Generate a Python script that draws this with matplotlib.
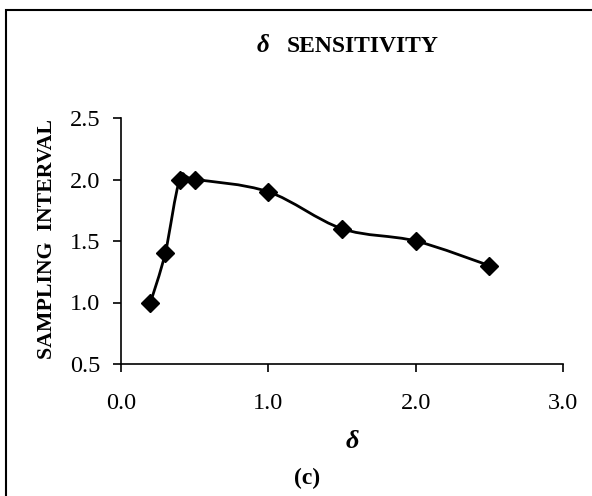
import matplotlib.pyplot as plt
from matplotlib.path import Path
from matplotlib.patches import PathPatch, Rectangle

# data
delta = [0.2, 0.3, 0.4, 0.5, 1.0, 1.5, 2.0, 2.5]
interval = [1.0, 1.4, 2.0, 2.0, 1.9, 1.6, 1.5, 1.3]
xticks = [0.0, 1.0, 2.0, 3.0]
yticks = [0.5, 1.0, 1.5, 2.0, 2.5]

plt.rcParams['font.family'] = 'Liberation Serif'

fig = plt.figure(figsize=(5.92, 4.96), dpi=100)
ax = fig.add_axes([121/592, 1-364/496, 442/592, 246/496])

# Excel-style smoothed line (Catmull-Rom bezier through the points)
pts = list(zip(delta, interval))
verts = [pts[0]]
codes = [Path.MOVETO]
n = len(pts)
for i in range(n - 1):
    p0 = pts[i - 1] if i > 0 else pts[i]
    p1 = pts[i]
    p2 = pts[i + 1]
    p3 = pts[i + 2] if i + 2 < n else pts[i + 1]
    c1 = (p1[0] + (p2[0] - p0[0]) / 6, p1[1] + (p2[1] - p0[1]) / 6)
    c2 = (p2[0] - (p3[0] - p1[0]) / 6, p2[1] - (p3[1] - p1[1]) / 6)
    verts += [c1, c2, p2]
    codes += [Path.CURVE4] * 3
ax.add_patch(PathPatch(Path(verts, codes), facecolor='none', edgecolor='black', lw=2))
ax.plot(delta, interval, linestyle='none', marker='D', markersize=9.5, color='black')

ax.set_xlim(0, 3)
ax.set_ylim(0.5, 2.5)
ax.set_xticks(xticks)
ax.set_xticklabels([f'{v:.1f}' for v in xticks])
ax.set_yticks(yticks)
ax.set_yticklabels([f'{v:.1f}' for v in yticks])
ax.spines['top'].set_visible(False)
ax.spines['right'].set_visible(False)
for s in ['left', 'bottom']:
    ax.spines[s].set_linewidth(1.2)
ax.tick_params(axis='y', direction='out', length=6, width=1.2, pad=9, labelsize=17.5)
ax.tick_params(axis='x', direction='out', length=6, width=1.2, pad=15, labelsize=17.5)

fig.text(257/592, 1-46/496, 'δ', ha='left', va='center',
         fontsize=18, fontweight='bold', fontstyle='italic')
fig.text(287/592, 1-46/496, 'SENSITIVITY', ha='left', va='center',
         fontsize=17, fontweight='bold')
fig.text(47/592, 1-239/496, 'SAMPLING  INTERVAL', ha='center', va='center',
         rotation=90, fontsize=15.7, fontweight='bold')
fig.text(352/592, 1-442/496, 'δ', ha='center', va='center', fontsize=19,
         fontweight='bold', fontstyle='italic')
fig.text(307/592, 1-478/496, '(c)', ha='center', va='center', fontsize=17,
         fontweight='bold')

# outer frame (cut off at right and bottom)
fig.patches.append(Rectangle((6/592, -0.1), 1.2, 1.1 - 10/496, transform=fig.transFigure,
                             fill=False, edgecolor='black', lw=1.5))

fig.savefig('out.png', dpi=100)
